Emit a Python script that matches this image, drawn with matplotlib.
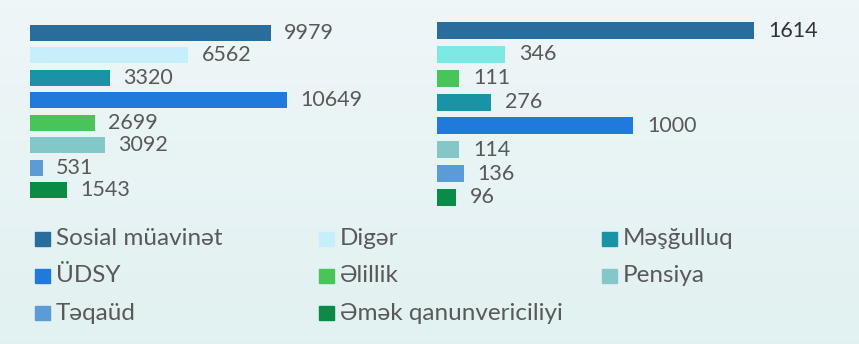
import numpy as np
import matplotlib.pyplot as plt
from matplotlib.patches import Rectangle

plt.rcParams['font.family'] = ['Lato', 'DejaVu Sans']

# categories shown in the legend
categories = ["Sosial müavinət", "Digər", "Məşğulluq", "ÜDSY",
              "Əlillik", "Pensiya", "Təqaüd", "Əmək qanunvericiliyi"]
cat_colors = ["#286d9c", "#c6eefb", "#1a93a6", "#2279dc",
              "#48c459", "#84c7c8", "#5b9bd6", "#0b8c46"]

# left panel
left_values = [9979, 6562, 3320, 10649, 2699, 3092, 531, 1543]
left_colors = cat_colors

# right panel (its own order)
right_values = [1614, 346, 111, 276, 1000, 114, 136, 96]
right_colors = ["#286d9c", "#7de8e4", "#48c459", "#1a93a6",
                "#2279dc", "#84c7c8", "#5b9bd6", "#0b8c46"]
right_label_colors = ["#333333"] + ["#595959"] * 7

W, H = 859, 344
fig = plt.figure(figsize=(W / 100, H / 100), dpi=100)

# soft vertical gradient background
bg = fig.add_axes([0, 0, 1, 1], zorder=-10)
grad = np.linspace(0, 1, 256)[:, None]
top = np.array([0.933, 0.965, 0.973])
bot = np.array([0.886, 0.945, 0.945])
img = top + (bot - top) * grad[..., None]
bg.imshow(img, aspect='auto', extent=[0, 1, 0, 1])
bg.axis('off')


def px_axes(x0, y0, x1, y1):
    # axes from pixel box (top-left origin)
    return fig.add_axes([x0 / W, 1 - y1 / H, (x1 - x0) / W, (y1 - y0) / H])


def bars(ax, values, colors, scale, px_width, label_colors, pad_px):
    n = len(values)
    y = np.arange(n)
    ax.barh(y, values, height=0.71, color=colors)
    xmax = px_width / scale
    ax.set_xlim(0, xmax)
    ax.set_ylim(n - 0.5, -0.5)
    ax.axis('off')
    for i, v in enumerate(values):
        ax.text(v + pad_px / scale, i, str(v), va='center', ha='left',
                fontsize=15.5, color=label_colors[i])


ax1 = px_axes(30, 21.8, 380, 201.2)
bars(ax1, left_values, left_colors, 0.02414, 350, ["#595959"] * 8, 13)

ax2 = px_axes(437, 18.6, 850, 209.4)
bars(ax2, right_values, right_colors, 0.1964, 413, right_label_colors, 14)

# legend, three columns
col_x = [35, 319, 602]
row_y = [238.5, 275.5, 313]
for k, (name, c) in enumerate(zip(categories, cat_colors)):
    cx = col_x[k % 3]
    cy = row_y[k // 3]
    fig.patches.append(Rectangle((cx / W, 1 - (cy + 7) / H), 15 / W, 14 / H,
                                 transform=fig.transFigure, color=c))
    fig.text((cx + 21) / W, 1 - cy / H, name, va='center', ha='left',
             fontsize=17.5, color="#595959")

fig.savefig("out.png", dpi=100)
